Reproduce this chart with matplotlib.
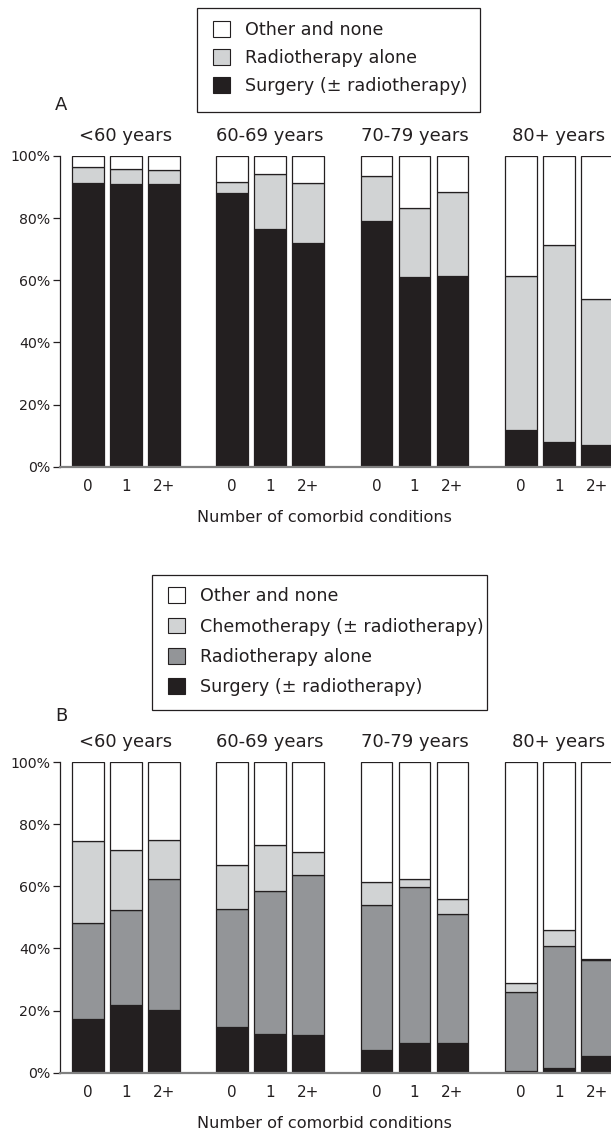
import numpy as np
import matplotlib.pyplot as plt
from matplotlib.patches import Patch, Rectangle
from matplotlib.transforms import blended_transform_factory

plt.rcParams['font.family'] = ['DejaVu Sans']

age_groups = ["<60 years", "60-69 years", "70-79 years", "80+ years"]
comorbid = ["0", "1", "2+"]

# panel A: percentages per bar (age group x comorbidity), bottom to top
a_surgery = [91.3, 91.0, 91.0, 88.2, 76.6, 71.9, 79.2, 61.0, 61.3, 11.8, 7.8, 6.9]
a_radio = [5.2, 4.7, 4.5, 3.4, 17.7, 19.3, 14.5, 22.4, 27.1, 49.6, 63.7, 47.2]
a_other = [3.5, 4.3, 4.5, 8.4, 5.7, 8.8, 6.3, 16.6, 11.6, 38.6, 28.5, 45.9]

# panel B
b_surgery = [17.4, 21.8, 20.2, 14.7, 12.4, 12.1, 7.4, 9.6, 9.6, 0.5, 1.5, 5.5]
b_radio = [30.9, 30.6, 42.0, 37.9, 46.2, 51.4, 46.7, 50.1, 41.5, 25.4, 39.2, 30.7]
b_chemo = [26.2, 19.4, 12.7, 14.1, 14.8, 7.6, 7.2, 2.5, 4.9, 3.1, 5.1, 0.5]
b_other = [25.5, 28.2, 25.1, 33.3, 26.6, 28.9, 38.7, 37.8, 44.0, 71.0, 54.2, 63.3]

W, H = 611, 1137
dark = '#231f20'
light = '#d1d3d4'
mid = '#939598'

x = np.array([g * 3.8 + i for g in range(4) for i in range(3)])
centers = [g * 3.8 + 1 for g in range(4)]

fig = plt.figure(figsize=(W / 100, H / 100), dpi=100)


def panel(top_px, bottom_px, layers):
    ax = fig.add_axes([60 / W, 1 - bottom_px / H, 1 - 60 / W, (bottom_px - top_px) / H])
    bottom = np.zeros(len(x))
    for vals, col in layers:
        ax.bar(x, vals, width=0.83, bottom=bottom, color=col,
               edgecolor=dark, linewidth=0.9)
        bottom += np.array(vals)
    ax.set_xlim(-0.73, 13.77)
    ax.set_ylim(0, 100)
    ax.set_yticks(range(0, 101, 20))
    ax.set_yticklabels([f"{v}%" for v in range(0, 101, 20)], fontsize=10.2, color=dark)
    ax.set_xticks(x)
    ax.set_xticklabels(comorbid * 4, fontsize=11, color=dark)
    ax.tick_params(axis='x', length=0, pad=9)
    ax.tick_params(axis='y', length=5, width=0.9, color=dark, pad=2)
    for s in ['top', 'right']:
        ax.spines[s].set_visible(False)
    ax.spines['left'].set_color(dark)
    ax.spines['left'].set_linewidth(0.9)
    ax.spines['bottom'].set_color('#808080')
    ax.spines['bottom'].set_linewidth(1.6)
    tr = blended_transform_factory(ax.transData, ax.transAxes)
    h = bottom_px - top_px
    for c, lab in zip(centers, age_groups):
        ax.text(c, 1 + 20 / h, lab, transform=tr, ha='center', va='center',
                fontsize=13, color=dark)
    ax.text(0.48, -51 / h, "Number of comorbid conditions", transform=ax.transAxes,
            ha='center', va='center', fontsize=11.6, color=dark)
    return ax


panel(156, 466.7, [(a_surgery, dark), (a_radio, light), (a_other, 'white')])
panel(762, 1072.7, [(b_surgery, dark), (b_radio, mid), (b_chemo, light), (b_other, 'white')])

fig.text(61 / W, 1 - 105 / H, "A", ha='center', va='center', fontsize=13, color=dark)
fig.text(61 / W, 1 - 716 / H, "B", ha='center', va='center', fontsize=13, color=dark)


def legend(labels, colors, left_px, top_px, box, spacing):
    handles = [Patch(facecolor=c, edgecolor=dark, linewidth=0.8) for c in colors]
    leg = fig.legend(handles, labels, loc='upper left',
                     bbox_to_anchor=(left_px / W, 1 - top_px / H),
                     frameon=False, fontsize=12.6,
                     handlelength=1.0, handleheight=1.0, handletextpad=0.85,
                     labelspacing=spacing, borderpad=0.9, borderaxespad=0)
    for t in leg.get_texts():
        t.set_color(dark)
    x0, y0, x1, y1 = box
    fig.add_artist(Rectangle((x0 / W, 1 - y1 / H), (x1 - x0) / W, (y1 - y0) / H,
                             transform=fig.transFigure, fill=False,
                             edgecolor=dark, linewidth=0.9))


legend(["Other and none", "Radiotherapy alone", "Surgery (\u00b1 radiotherapy)"],
       ['white', light, dark], 197, 5, (197, 8, 480, 112), 0.58)
legend(["Other and none", "Chemotherapy (\u00b1 radiotherapy)", "Radiotherapy alone",
        "Surgery (\u00b1 radiotherapy)"], ['white', light, mid, dark], 152, 571.5,
       (152, 575, 487, 710), 0.7)

fig.savefig("out.png", dpi=100)
